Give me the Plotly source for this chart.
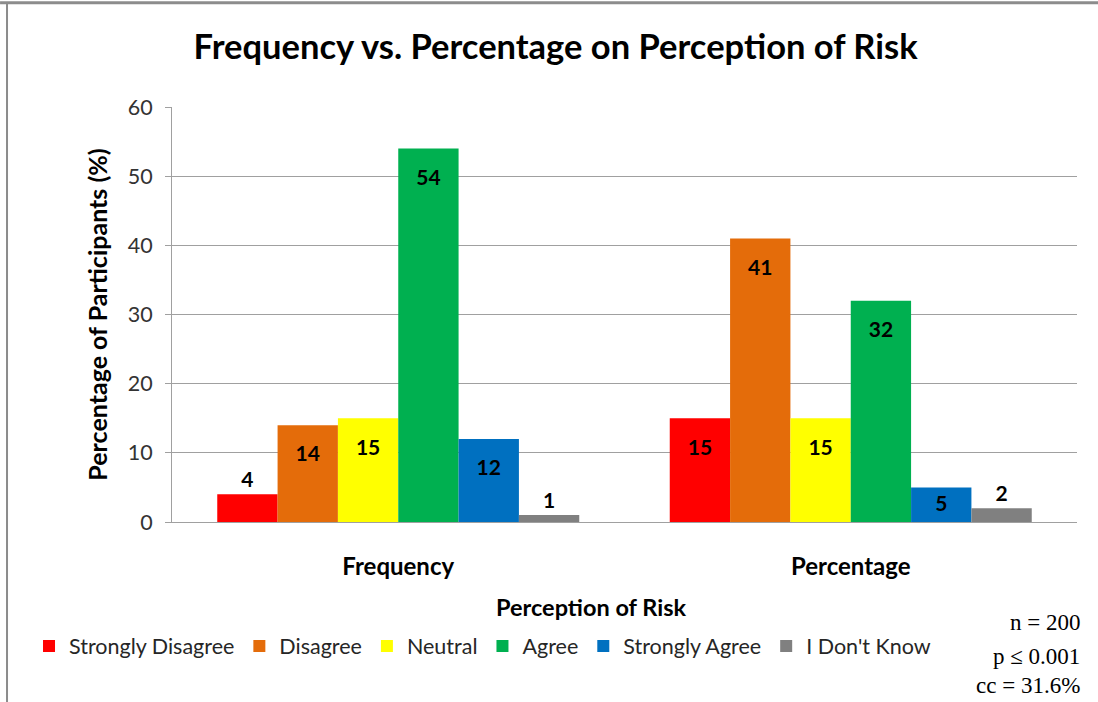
import plotly.graph_objects as go

# data
groups = ["Frequency", "Percentage"]
responses = ["Strongly Disagree", "Disagree", "Neutral", "Agree", "Strongly Agree", "I Don't Know"]
strongly_disagree = [4, 15]
disagree = [14, 41]
neutral = [15, 15]
agree = [54, 32]
strongly_agree = [12, 5]
dont_know = [1, 2]
stats_lines = ["n = 200", "p \u2264 0.001", "cc = 31.6%"]

series = [strongly_disagree, disagree, neutral, agree, strongly_agree, dont_know]
colors = ["#FF0000", "#E46C0A", "#FFFF00", "#00B050", "#0070C0", "#808080"]

FONT = "Lato"
# tiny spacer line so inside labels sit lower under the bar top, like Excel's "inside end"
SPACER = "<span style='font-size:6px'>&nbsp;</span><br>"

fig = go.Figure()
for name, vals, col in zip(responses, series, colors):
    # small bars get their label above the bar, like the original
    pos = ["outside" if v < 5 else "inside" for v in vals]
    if name == "Strongly Agree":
        pos = ["inside", "inside"]
    labels = []
    for v, p in zip(vals, pos):
        if p == "inside" and v >= 10:
            labels.append(SPACER + str(v))
        else:
            labels.append(str(v))
    fig.add_trace(go.Bar(
        x=groups, y=vals, name=name,
        marker=dict(color=col, line=dict(width=0)),
        text=labels,
        textposition=pos,
        textangle=0,
        insidetextanchor="end",
        constraintext="none",
        textfont=dict(family=FONT, size=21, color="black", weight="bold"),
        cliponaxis=False,
        hovertemplate="%{x}: %{y}<extra>" + name + "</extra>",
    ))

fig.update_layout(
    width=1098, height=702,
    paper_bgcolor="white", plot_bgcolor="white",
    margin=dict(l=172, r=21, t=107, b=180),
    barmode="group", bargap=0.2, bargroupgap=0,
    font=dict(family=FONT, color="#262626"),
    title=dict(
        text="<b>Frequency vs. Percentage on Perception of Risk</b>",
        x=0.506, xanchor="center", y=0.933, yanchor="middle",
        font=dict(family=FONT, size=34.5, color="black"),
    ),
    legend=dict(
        orientation="h", x=-0.158, xanchor="left", y=-0.299, yanchor="middle",
        font=dict(family=FONT, size=21.5, color="#262626"),
        itemwidth=30, tracegroupgap=0,
    ),
    showlegend=True,
)

fig.update_yaxes(
    range=[0, 60], dtick=10,
    showgrid=True, gridcolor="#A0A0A0", gridwidth=1,
    showline=True, linecolor="#A0A0A0", linewidth=1,
    ticks="outside", ticklen=6, tickcolor="#A0A0A0",
    ticklabelstandoff=8,
    tickfont=dict(family=FONT, size=21.5, color="#333333"),
    zeroline=False,
    title=dict(text="<b>Percentage of Participants (%)</b>",
               font=dict(family=FONT, size=25, color="black"), standoff=12),
)
fig.update_xaxes(
    showline=True, linecolor="#A0A0A0", linewidth=1,
    ticks="", ticklabelstandoff=23,
    tickfont=dict(family=FONT, size=24, color="black", weight="bold"),
)

# x axis title sits a bit left of centre in the original
fig.add_annotation(
    text="<b>Perception of Risk</b>", xref="paper", yref="paper",
    x=0.464, y=-0.205, xanchor="center", yanchor="middle", showarrow=False,
    font=dict(family=FONT, size=23.5, color="black"),
)

# statistics block, bottom right
for i, line in enumerate(stats_lines):
    fig.add_annotation(
        text=line, xref="paper", yref="paper",
        x=1.0055, y=[-0.243, -0.323, -0.393][i], xanchor="right", yanchor="middle",
        showarrow=False, font=dict(family="Liberation Serif", size=23, color="black"),
    )

# outer chart border (top and left visible)
fig.add_shape(type="line", xref="paper", yref="paper",
              x0=-0.19, x1=1.03, y0=1.251, y1=1.251,
              line=dict(color="#8C8C8C", width=3))
fig.add_shape(type="line", xref="paper", yref="paper",
              x0=-0.1823, x1=-0.1823, y0=1.253, y1=-0.45,
              line=dict(color="#8C8C8C", width=2))

fig.write_html("out.html", config={"displayModeBar": False},
               post_script="document.body.style.margin='0';")
